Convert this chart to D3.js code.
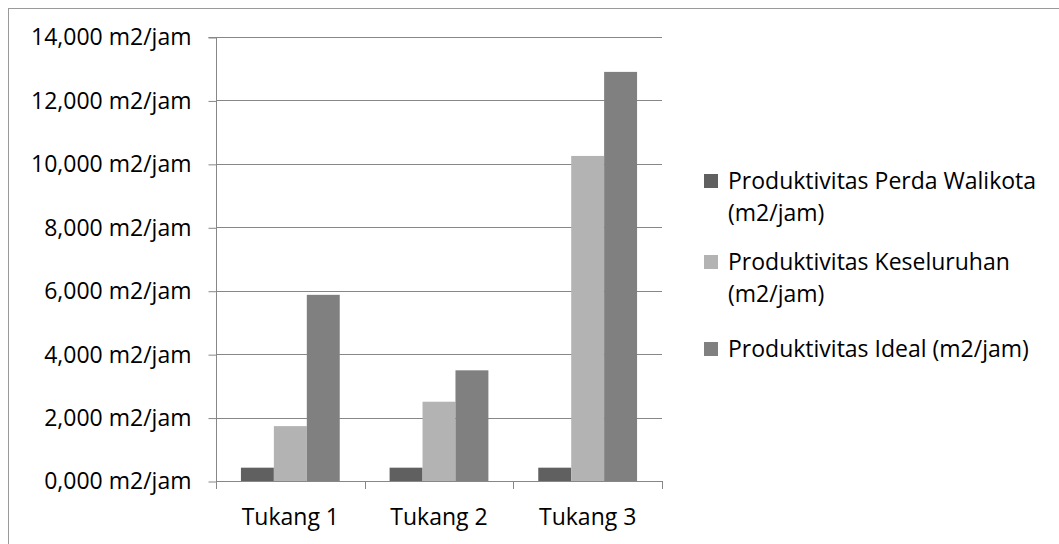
<!DOCTYPE html>
<html>
<head>
<meta charset="utf-8">
<script src="https://cdn.jsdelivr.net/npm/d3@7/dist/d3.min.js"></script>
<style>
  html, body { margin: 0; padding: 0; background: #fff; }
  svg { display: block; }
  text { font-family: "Open Sans", sans-serif; fill: #000; }
</style>
</head>
<body>
<svg id="chart" width="1059" height="544"></svg>
<script>
const categories = ["Tukang 1", "Tukang 2", "Tukang 3"];
const seriesNames = [
  "Produktivitas Perda Walikota (m2/jam)",
  "Produktivitas Keseluruhan (m2/jam)",
  "Produktivitas Ideal (m2/jam)"
];
const legendLines = [
  ["Produktivitas Perda Walikota", "(m2/jam)"],
  ["Produktivitas Keseluruhan", "(m2/jam)"],
  ["Produktivitas Ideal (m2/jam)"]
];
const perdaWalikota = [0.42, 0.42, 0.42];
const keseluruhan = [1.73, 2.50, 10.25];
const ideal = [5.87, 3.49, 12.90];
const yTicks = [0, 2, 4, 6, 8, 10, 12, 14];
const colors = ["#606060", "#b3b3b3", "#808080"];

const seriesValues = [perdaWalikota, keseluruhan, ideal];

const svg = d3.select("#chart");
const W = 1059, H = 544;

// outer chart border
svg.append("rect")
  .attr("x", 8.5).attr("y", 8.5)
  .attr("width", W + 10).attr("height", H + 10)
  .attr("fill", "none").attr("stroke", "#9a9a9a").attr("stroke-width", 1);

const plot = { left: 216, right: 662, top: 37, bottom: 481 };

const x = d3.scaleBand().domain(categories).range([plot.left, plot.right]).padding(0);
const xs = d3.scaleBand().domain(d3.range(seriesNames.length))
  .range([0, x.bandwidth()]).paddingOuter(0.757).paddingInner(0);
const y = d3.scaleLinear().domain([0, 14]).range([plot.bottom, plot.top]);

const locale = d3.formatLocale({ decimal: ",", thousands: ".", grouping: [3], currency: ["", ""] });
const fmt = locale.format(".3f");

const gridColor = "#878787";
const fs = "23px";

// gridlines
svg.append("g").selectAll("line").data(yTicks.filter(d => d > 0)).join("line")
  .attr("x1", plot.left).attr("x2", plot.right)
  .attr("y1", d => Math.round(y(d)) + 0.5).attr("y2", d => Math.round(y(d)) + 0.5)
  .attr("stroke", gridColor).attr("stroke-width", 1);

// bars
const groups = svg.append("g").selectAll("g").data(seriesValues).join("g")
  .attr("fill", (d, i) => colors[i]);
groups.each(function(vals, si) {
  d3.select(this).selectAll("rect").data(vals).join("rect")
    .attr("x", (d, ci) => x(categories[ci]) + xs(si))
    .attr("width", xs.bandwidth())
    .attr("y", d => y(d))
    .attr("height", d => y(0) - y(d));
});

// y axis
const yAxis = d3.axisLeft(y).tickValues(yTicks).tickSize(8).tickPadding(17)
  .tickFormat(d => fmt(d) + " m2/jam");
const gy = svg.append("g").attr("transform", `translate(${plot.left + 0.5},0.5)`).call(yAxis);
gy.select(".domain").attr("stroke", gridColor).attr("d", `M-8,${plot.top}H0V${plot.bottom}`);
gy.selectAll(".tick line").attr("stroke", gridColor);
gy.selectAll(".tick text").attr("font-size", fs).attr("font-family", "'Open Sans', sans-serif").attr("fill", "#000");

// x axis
const xAxis = d3.axisBottom(x).tickSize(0).tickPadding(0);
const gx = svg.append("g").attr("transform", `translate(0,${plot.bottom + 0.5})`).call(xAxis);
gx.select(".domain").attr("stroke", gridColor).attr("d", `M${plot.left},0H${plot.right}`);
gx.selectAll(".tick text").attr("font-size", fs).attr("font-family", "'Open Sans', sans-serif")
  .attr("fill", "#000").attr("y", 43).attr("dy", 0);
// category boundary ticks
const bounds = categories.map(c => x(c)).concat([plot.right]);
svg.append("g").selectAll("line").data(bounds).join("line")
  .attr("x1", d => Math.round(d) + 0.5).attr("x2", d => Math.round(d) + 0.5)
  .attr("y1", plot.bottom).attr("y2", plot.bottom + 8)
  .attr("stroke", gridColor);

// legend
const legendTops = [174, 255, 342];
const lg = svg.append("g");
legendLines.forEach((lines, i) => {
  const top = legendTops[i];
  lg.append("rect").attr("x", 704).attr("y", top).attr("width", 14).attr("height", 14)
    .attr("fill", colors[i]);
  const t = lg.append("text").attr("x", 728).attr("y", top + 15).attr("font-size", fs);
  lines.forEach((ln, j) => {
    t.append("tspan").attr("x", 728).attr("dy", j === 0 ? 0 : 32).text(ln);
  });
});
</script>
</body>
</html>
